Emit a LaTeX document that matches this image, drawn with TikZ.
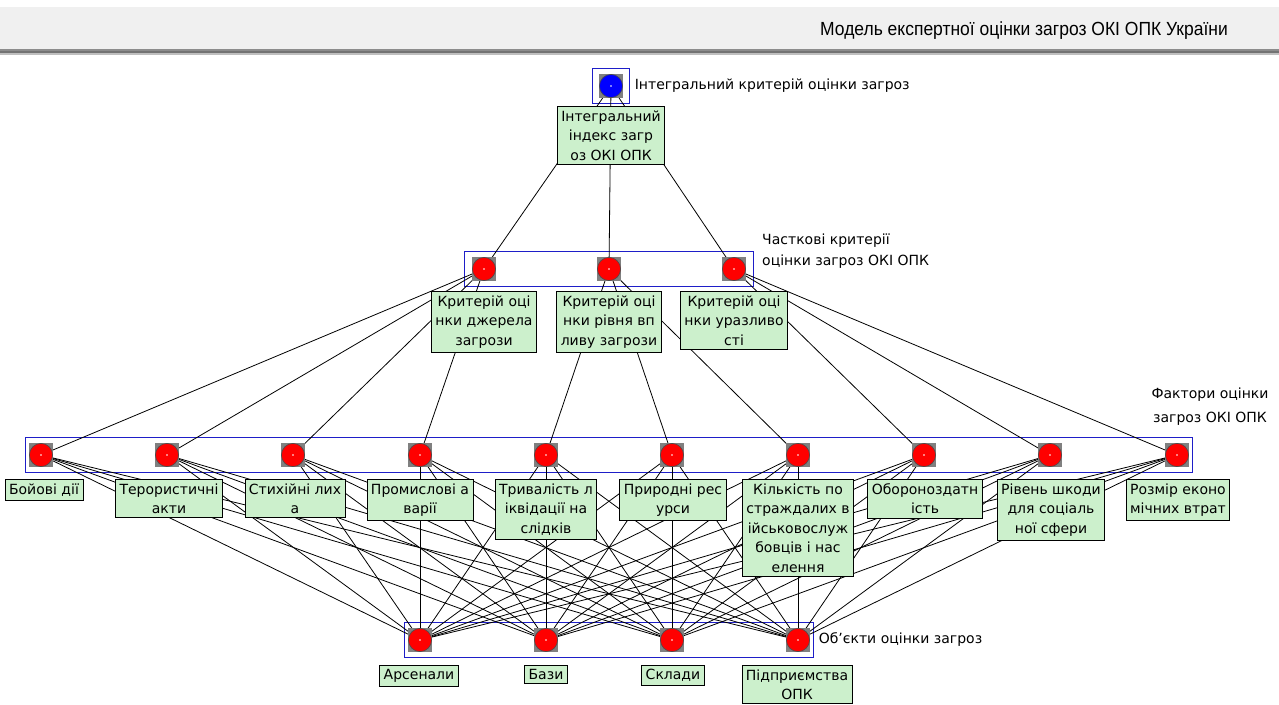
\documentclass[tikz,border=0pt]{standalone}
\usepackage{fontspec}
\setmainfont{DejaVu Sans}
\newfontfamily\titlefont[FakeStretch=0.92]{Liberation Sans}
\usetikzlibrary{fit}
\definecolor{boxgreen}{RGB}{204,240,204}
\definecolor{framecol}{RGB}{30,30,200}
\definecolor{ballgray}{RGB}{128,128,128}
\definecolor{barcol}{RGB}{240,240,240}
\pgfdeclarelayer{bg}
\pgfdeclarelayer{edges}
\pgfsetlayers{bg,edges,main}
\tikzset{
  ball/.style={rectangle, fill=ballgray, minimum size=24pt, inner sep=0pt,
    path picture={
      \filldraw[fill=#1, draw=black!70, line width=0.6pt] (path picture bounding box.center) circle (11.6pt);
      \fill[white] (path picture bounding box.center) circle (0.8pt);}},
  box/.style={draw=black, fill=boxgreen, line width=0.8pt, align=center,
    inner xsep=4pt, inner ysep=4pt, anchor=north,
    font=\fontsize{14}{19.5}\selectfont},
  frame/.style={draw=framecol, line width=0.8pt, inner sep=0pt},
  lbl/.style={font=\fontsize{14}{21}\selectfont, inner sep=0pt},
  edge/.style={draw=black, line width=0.8pt}
}
\begin{document}
\begin{tikzpicture}[x=1pt,y=-1pt]
\useasboundingbox (0,0) rectangle (1279,704);
\begin{pgfonlayer}{bg}
\fill[white] (0,0) rectangle (1279,704);
\end{pgfonlayer}
% header
\fill[barcol] (0,7) rectangle (1279,49);
\fill[black!45] (0,49) rectangle (1279,51);
\fill[black!55] (0,51) rectangle (1279,53);
\fill[black!25] (0,53) rectangle (1279,55);
\node[anchor=east, inner sep=0pt, font=\titlefont\fontsize{19}{21}\selectfont] (title) at (1228,31) {Модель експертної оцінки загроз ОКІ ОПК України};

% balls
\node[ball=blue] (T) at (611,86) {};
\node[ball=red] (C1) at (484,269) {};
\node[ball=red] (C2) at (609,269) {};
\node[ball=red] (C3) at (734,269) {};
\foreach \x [count=\i] in {41,167,293,420,546,672,798,924,1050,1177}
  \node[ball=red] (F\i) at (\x,455) {};
\foreach \x [count=\i] in {420,546,672,798}
  \node[ball=red] (O\i) at (\x,640) {};

% frames
\begin{pgfonlayer}{bg}
\node[frame, inner xsep=6pt, inner ysep=5pt, fit=(T)] (fT) {};
\node[frame, inner xsep=7pt, inner ysep=5pt, fit=(C1)(C3)] (fC) {};
\node[frame, inner xsep=3pt, inner ysep=5pt, fit=(F1)(F10)] (fF) {};
\node[frame, inner xsep=3pt, inner ysep=5pt, fit=(O1)(O4)] (fO) {};
\end{pgfonlayer}

% edges
\begin{pgfonlayer}{edges}
\foreach \a/\b in {T/C1,T/C2,T/C3,C1/F1,C1/F2,C1/F3,C1/F4,C2/F5,C2/F6,C2/F7,C3/F8,C3/F9,C3/F10}
  \draw[edge] (\a.center) -- (\b.center);
\foreach \i in {1,...,10}
  \foreach \j in {1,...,4}
    \draw[edge] (F\i.center) -- (O\j.center);
\end{pgfonlayer}

% boxes
\node[box] (bT) at (611,106) {Інтегральний\\індекс загр\\оз ОКІ ОПК};
\node[box] (bC1) at (484,291) {Критерій оці\\нки джерела\\загрози};
\node[box] (bC2) at (609,291) {Критерій оці\\нки рівня вп\\ливу загрози};
\node[box] (bC3) at (734,291) {Критерій оці\\нки уразливо\\сті};
\node[box] (bF1) at (44,479) {Бойові дії};
\node[box] (bF2) at (169,479) {Терористичні\\акти};
\node[box] (bF3) at (295,479) {Стихійні лих\\а};
\node[box] (bF4) at (420,479) {Промислові а\\варії};
\node[box] (bF5) at (546,479) {Тривалість л\\іквідації на\\слідків};
\node[box] (bF6) at (673,479) {Природні рес\\урси};
\node[box] (bF7) at (798,479) {Кількість по\\страждалих в\\ійськовослуж\\бовців і нас\\елення};
\node[box] (bF8) at (925,479) {Обороноздатн\\ість};
\node[box] (bF9) at (1051,479) {Рівень шкоди\\для соціаль\\ної сфери};
\node[box] (bF10) at (1178,479) {Розмір еконо\\мічних втрат};
\node[box] (bO1) at (419,665) {Арсенали};
\node[box] (bO2) at (546,665) {Бази};
\node[box] (bO3) at (673,665) {Склади};
\node[box] (bO4) at (797,665) {Підприємства\\ОПК};

% level labels
\node[lbl, anchor=west] (lT) at ([xshift=5pt]fT.east) {Інтегральний критерій оцінки загроз};
\node[lbl, anchor=west, align=left] (lC) at (762,251) {Часткові критерії\\оцінки загроз ОКІ ОПК};
\node[lbl, align=center, font=\fontsize{14}{24}\selectfont] (lF) at (1210,407) {Фактори оцінки\\загроз ОКІ ОПК};
\node[lbl, anchor=west] (lO) at ([xshift=5pt]fO.east) {Об'єкти оцінки загроз};
\end{tikzpicture}
\end{document}
